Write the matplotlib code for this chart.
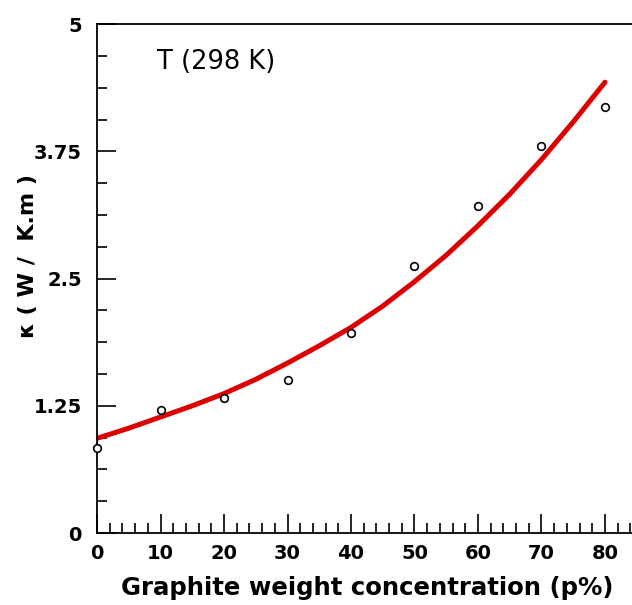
import numpy as np
import matplotlib.pyplot as plt
from matplotlib.ticker import MultipleLocator

# measured points (graphite wt %, thermal conductivity W/K.m)
conc = [0, 10, 20, 30, 40, 50, 60, 70, 80]
kappa = [0.835, 1.21, 1.33, 1.50, 1.97, 2.62, 3.21, 3.80, 4.19]

# red fitted curve, every 5 %
fit_conc = [0, 5, 10, 15, 20, 25, 30, 35, 40, 45, 50, 55, 60, 65, 70, 75, 80]
fit_kappa = [0.93, 1.03, 1.14, 1.25, 1.37, 1.51, 1.67, 1.84, 2.02, 2.23,
             2.47, 2.73, 3.02, 3.33, 3.67, 4.04, 4.43]

fig = plt.figure(figsize=(6.32, 6.05), dpi=100)
ax = fig.add_axes([0.1535, 0.119, 0.854, 0.841])

ax.plot(fit_conc, fit_kappa, color='#dd0000', lw=3.6, solid_capstyle='round',
        solid_joinstyle='round', zorder=2)
ax.plot(conc, kappa, 'o', ms=5.5, mfc='white', mec='black', mew=1.2, zorder=3,
        clip_on=False)

ax.set_xlim(0, 85)
ax.set_ylim(0, 5)
ax.xaxis.set_major_locator(MultipleLocator(10))
ax.xaxis.set_minor_locator(MultipleLocator(2))
ax.set_yticks([0, 1.25, 2.5, 3.75, 5])
ax.set_yticklabels(['0', '1.25', '2.5', '3.75', '5'])
ax.yaxis.set_minor_locator(MultipleLocator(0.3125))

ax.tick_params(which='both', direction='in', top=False, right=False, width=1.2,
               labelsize=14)
ax.tick_params(axis='x', pad=8)
ax.tick_params(axis='y', pad=11)
ax.tick_params(which='major', length=14)
ax.tick_params(which='minor', length=7)
for lab in ax.get_xticklabels() + ax.get_yticklabels():
    lab.set_fontweight('bold')
for s in ax.spines.values():
    s.set_linewidth(1.3)

ax.set_xlabel('Graphite weight concentration (p%)', fontsize=17.6, fontweight='bold')
ax.xaxis.set_label_coords(0.5, -0.084)
ax.set_ylabel('\u03ba ( W /  K.m )', fontsize=16, fontweight='bold')
ax.yaxis.set_label_coords(-0.109, 0.544)
ax.text(9.5, 4.63, 'T (298 K)', fontsize=18.5, va='center', ha='left')

fig.savefig('out.png', dpi=100)
